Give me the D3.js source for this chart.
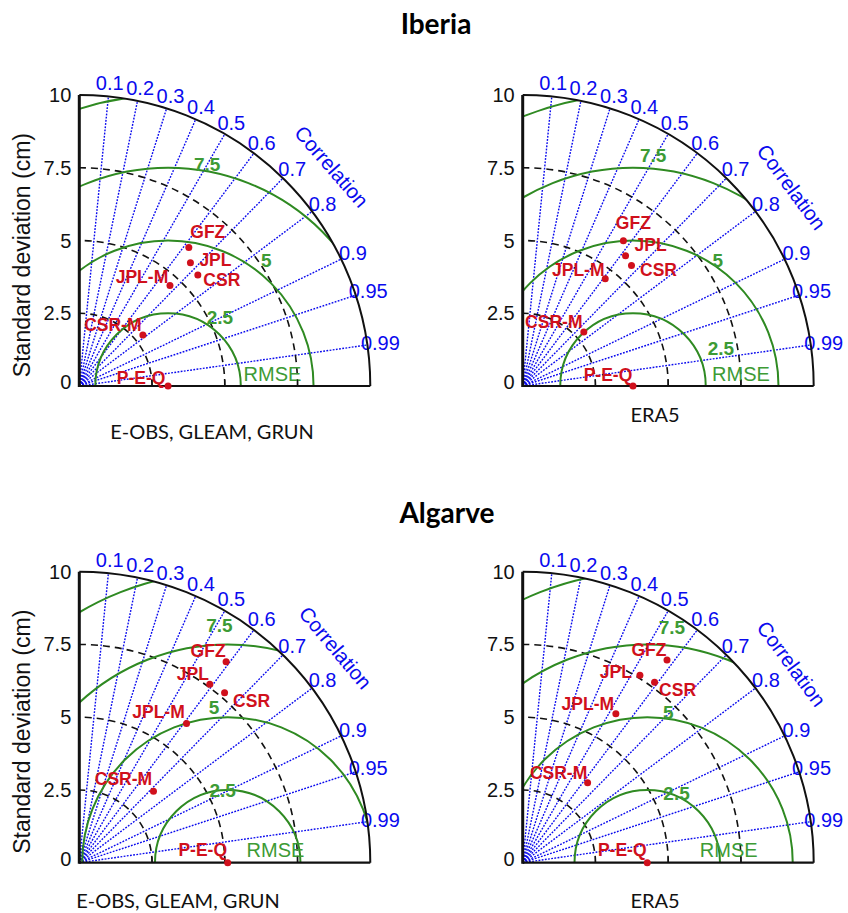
<!DOCTYPE html>
<html>
<head>
<meta charset="utf-8">
<script src="https://cdn.jsdelivr.net/npm/d3@7"></script>
<style>
body { margin: 0; background: #fff; }
</style>
</head>
<body>
<svg id="chart" width="848" height="913" font-family="'Liberation Sans', Arial, sans-serif"></svg>
<script>
// ---- data ----
var models = ["GFZ", "JPL", "CSR", "JPL-M", "CSR-M"];
var refName = "P-E-Q";

// standard deviation of GRACE solutions (cm)
var stdIberia = [6.07, 5.70, 5.58, 4.65, 2.80];
var stdAlgarve = [8.55, 7.60, 7.68, 6.04, 3.54];

// correlation with P-E-Q
var corrIberiaEobs = [0.62, 0.67, 0.73, 0.67, 0.78];
var corrIberiaEra5 = [0.57, 0.62, 0.67, 0.61, 0.75];
var corrAlgarveEobs = [0.59, 0.59, 0.65, 0.61, 0.72];
var corrAlgarveEra5 = [0.58, 0.53, 0.59, 0.53, 0.63];

// standard deviation of the reference P-E-Q
var refIberiaEobs = 3.05, refIberiaEra5 = 3.79;
var refAlgarveEobs = 5.10, refAlgarveEra5 = 4.28;

var corrTicks = [0.1, 0.2, 0.3, 0.4, 0.5, 0.6, 0.7, 0.8, 0.9, 0.95, 0.99];
var stdTicks = [0, 2.5, 5, 7.5, 10];
var stdTickLabels = ["0", "2.5", "5", "7.5", "10"];
var stdArcs = [2.5, 5, 7.5];
var rmseLevels = [2.5, 5, 7.5, 10];
var rmseLabelLevels = [2.5, 5, 7.5];
var rmseLabelText = ["2.5", "5", "7.5"];

var regions = ["Iberia", "Algarve"];
var sources = ["E-OBS, GLEAM, GRUN", "ERA5"];

// ---- layout ----
var R = 291;
var r = d3.scaleLinear().domain([0, 10]).range([0, R]);
var blue = "#0a0aee", green = "#2f8a22", greenText = "#3d9b35", red = "#d0101c";

var panels = [
	{ox: 79.3, oy: 386, std: stdIberia, corr: corrIberiaEobs, ref: refIberiaEobs, sub: sources[0], subX: 212, subY: 439, ylab: true,
	 off: [[19,-15],[25,-3],[24,5],[-28,-9],[-30,-10]], refOff: [-27,-8],
	 rmseLab: [[2.96,53],[5.48,52],[7.73,80]], rmseWord: 6.64, corrAng: 41},
	{ox: 522.7, oy: 386, std: stdIberia, corr: corrIberiaEra5, ref: refIberiaEra5, sub: sources[1], subX: 655, subY: 422, ylab: false,
	 off: [[10,-18],[25,-11],[27,5],[-27,-9],[-30,-10]], refOff: [-25,-11],
	 rmseLab: [[3.28,23],[5.21,56],[7.94,85]], rmseWord: 7.5, corrAng: 36.5},
	{ox: 79.3, oy: 862.7, std: stdAlgarve, corr: corrAlgarveEobs, ref: refAlgarveEobs, sub: sources[0], subX: 178, subY: 908, ylab: true,
	 off: [[-18,-11],[-17,-10],[27,8],[-28,-11],[-30,-12]], refOff: [-25,-13],
	 rmseLab: [[2.48,94],[5.36,95],[8.14,92]], rmseWord: 6.74, corrAng: 40},
	{ox: 522.7, oy: 862.7, std: stdAlgarve, corr: corrAlgarveEra5, ref: refAlgarveEra5, sub: sources[1], subX: 655, subY: 908, ylab: false,
	 off: [[-18,-10],[-24,-3],[23,8],[-28,-10],[-29,-10]], refOff: [-25,-13],
	 rmseLab: [[2.58,67],[5.22,82],[8.11,84]], rmseWord: 7.08, corrAng: 36.5}
];

var svg = d3.select("#chart");

// region titles
svg.append("text").attr("x", 436).attr("y", 34).attr("text-anchor", "middle")
	.style("font-family", "Lato, 'Open Sans', sans-serif").style("font-weight", "bold").style("font-size", "28px")
	.text(regions[0]);
svg.append("text").attr("x", 447).attr("y", 523).attr("text-anchor", "middle")
	.style("font-family", "Lato, 'Open Sans', sans-serif").style("font-weight", "bold").style("font-size", "28px")
	.text(regions[1]);

function polar(s, c) {
	// std + correlation -> pixel position inside the panel group
	var a = Math.acos(c);
	return [r(s * Math.cos(a)), -r(s * Math.sin(a))];
}

function quarterArc(rad) {
	// open quarter arc from the x axis up to the y axis
	var p = d3.path();
	p.moveTo(rad, 0);
	p.arc(0, 0, rad, 0, -Math.PI / 2, true);
	return p.toString();
}

panels.forEach(function(p, k) {
	var g = svg.append("g").attr("transform", "translate(" + p.ox + "," + p.oy + ")");

	// clip to the quarter disc
	var clipId = "clip" + k;
	g.append("clipPath").attr("id", clipId)
		.append("path")
		.attr("d", quarterArc(r(10)) + "L0,0Z");

	// correlation rays
	g.append("g").selectAll("line").data(corrTicks).enter().append("line")
		.attr("x1", 0).attr("y1", 0)
		.attr("x2", function(d) { return polar(10, d)[0]; })
		.attr("y2", function(d) { return polar(10, d)[1]; })
		.attr("stroke", blue).attr("stroke-width", 1.4).attr("stroke-dasharray", "1.8,1.4");

	// correlation labels
	g.append("g").selectAll("text").data(corrTicks).enter().append("text")
		.attr("x", function(d) { return polar(10.45, d)[0]; })
		.attr("y", function(d) { return polar(10.45, d)[1]; })
		.attr("text-anchor", "middle").attr("dominant-baseline", "central")
		.style("font-size", "20px").style("fill", blue)
		.text(function(d) { return d; });

	// dashed std arcs
	g.append("g").selectAll("path").data(stdArcs).enter().append("path")
		.attr("d", function(d) { return quarterArc(r(d)); })
		.attr("fill", "none").attr("stroke", "#111").attr("stroke-width", 1.6).attr("stroke-dasharray", "7,5");

	// RMSE circles around the reference
	g.append("g").attr("clip-path", "url(#" + clipId + ")")
		.selectAll("circle").data(rmseLevels).enter().append("circle")
		.attr("cx", r(p.ref)).attr("cy", 0)
		.attr("r", function(d) { return r(d); })
		.attr("fill", "none").attr("stroke", green).attr("stroke-width", 2);

	// RMSE labels
	g.append("g").selectAll("text").data(rmseLabelLevels).enter().append("text")
		.attr("x", function(d, i) { return r(p.ref + p.rmseLab[i][0] * Math.cos(p.rmseLab[i][1] * Math.PI / 180)); })
		.attr("y", function(d, i) { return -r(p.rmseLab[i][0] * Math.sin(p.rmseLab[i][1] * Math.PI / 180)); })
		.attr("text-anchor", "middle").attr("dominant-baseline", "central")
		.style("font-size", "19px").style("font-weight", "bold").style("fill", greenText)
		.text(function(d, i) { return rmseLabelText[i]; });
	g.append("text")
		.attr("x", r(p.rmseWord)).attr("y", -r(0.42))
		.attr("text-anchor", "middle").attr("dominant-baseline", "central")
		.style("font-size", "20px").style("fill", greenText)
		.text("RMSE");

	// outer boundary and axes
	g.append("path")
		.attr("d", quarterArc(r(10)))
		.attr("fill", "none").attr("stroke", "#111").attr("stroke-width", 2);
	g.append("line").attr("x1", 0).attr("y1", 0).attr("x2", r(10)).attr("y2", 0)
		.attr("stroke", "#111").attr("stroke-width", 2.2);
	g.append("line").attr("x1", 0).attr("y1", 1).attr("x2", 0).attr("y2", -r(10))
		.attr("stroke", "#111").attr("stroke-width", 3);

	// axis ticks
	g.append("g").selectAll("line").data(stdArcs).enter().append("line")
		.attr("x1", function(d) { return r(d); }).attr("x2", function(d) { return r(d); })
		.attr("y1", 0).attr("y2", -6).attr("stroke", "#111").attr("stroke-width", 1.2);
	g.append("g").selectAll("text").data(stdTicks).enter().append("text")
		.attr("x", -8).attr("y", function(d) { return -r(d) + (d === 0 ? -4 : 0); })
		.attr("text-anchor", "end").attr("dominant-baseline", "central")
		.style("font-size", "20px").style("fill", "#111")
		.text(function(d, i) { return stdTickLabels[i]; });

	// "Correlation" axis title
	var ca = p.corrAng * Math.PI / 180;
	g.append("text")
		.attr("transform", "translate(" + r(11.5 * Math.cos(ca)) + "," + (-r(11.5 * Math.sin(ca))) + ") rotate(" + (90 - p.corrAng) + ")")
		.attr("text-anchor", "middle").attr("dominant-baseline", "central")
		.style("font-size", "20.5px").style("fill", blue)
		.text("Correlation");

	// model points
	var pts = models.map(function(m, i) { return {name: m, s: p.std[i], c: p.corr[i], off: p.off[i]}; });
	pts.push({name: refName, s: p.ref, c: 1, off: p.refOff});

	g.append("g").selectAll("text").data(pts).enter().append("text")
		.attr("x", function(d) { return polar(d.s, d.c)[0] + d.off[0]; })
		.attr("y", function(d) { return polar(d.s, d.c)[1] + d.off[1]; })
		.attr("text-anchor", "middle").attr("dominant-baseline", "central")
		.style("font-size", "17.5px").style("font-weight", "bold").style("fill", red)
		.text(function(d) { return d.name; });
	g.append("g").selectAll("circle").data(pts).enter().append("circle")
		.attr("cx", function(d) { return polar(d.s, d.c)[0]; })
		.attr("cy", function(d) { return polar(d.s, d.c)[1]; })
		.attr("r", 3.5).attr("fill", red);

	// y-axis title on left panels
	if (p.ylab) {
		g.append("text")
			.attr("transform", "translate(" + (21.7 - p.ox) + "," + (-r(4.5)) + ") rotate(-90)")
			.attr("text-anchor", "middle").attr("dominant-baseline", "central")
			.style("font-size", "23px").style("fill", "#111")
			.text("Standard deviation (cm)");
	}

	// data source caption
	svg.append("text").attr("x", p.subX).attr("y", p.subY).attr("text-anchor", "middle")
		.style("font-family", "Lato, 'Open Sans', sans-serif").style("font-size", "20px").style("fill", "#111")
		.text(p.sub);
});
</script>
</body>
</html>
